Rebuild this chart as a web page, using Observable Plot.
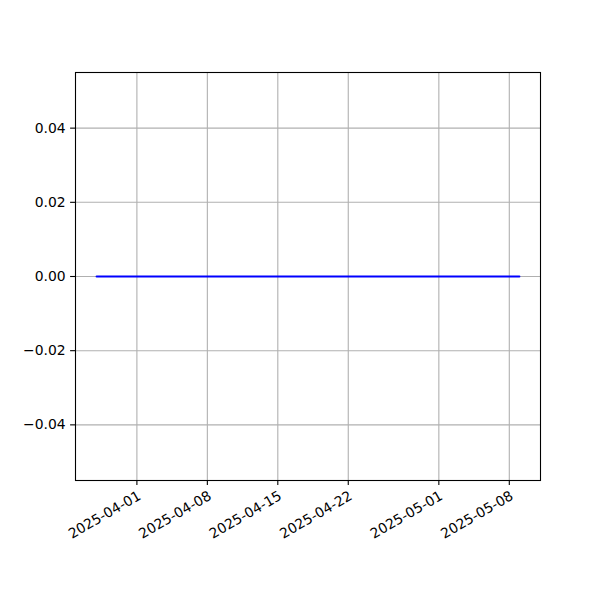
<!DOCTYPE html>
<html>
<head>
<meta charset="utf-8">
<script src="https://cdn.jsdelivr.net/npm/d3@7"></script>
<script src="https://cdn.jsdelivr.net/npm/@observablehq/plot@0.6"></script>
<style>
  html, body { margin: 0; padding: 0; background: white; }
  #chart { width: 600px; height: 600px; }
</style>
</head>
<body>
<div id="chart"></div>
<script>
const dates = [
  "2025-03-28","2025-03-29","2025-03-30","2025-03-31","2025-04-01","2025-04-02","2025-04-03",
  "2025-04-04","2025-04-05","2025-04-06","2025-04-07","2025-04-08","2025-04-09","2025-04-10",
  "2025-04-11","2025-04-12","2025-04-13","2025-04-14","2025-04-15","2025-04-16","2025-04-17",
  "2025-04-18","2025-04-19","2025-04-20","2025-04-21","2025-04-22","2025-04-23","2025-04-24",
  "2025-04-25","2025-04-26","2025-04-27","2025-04-28","2025-04-29","2025-04-30","2025-05-01",
  "2025-05-02","2025-05-03","2025-05-04","2025-05-05","2025-05-06","2025-05-07","2025-05-08",
  "2025-05-09"
];
const values = [
  0,0,0,0,0,0,0,
  0,0,0,0,0,0,0,
  0,0,0,0,0,0,0,
  0,0,0,0,0,0,0,
  0,0,0,0,0,0,0,
  0,0,0,0,0,0,0,
  0
];
const xTickLabels = ["2025-04-01","2025-04-08","2025-04-15","2025-04-22","2025-05-01","2025-05-08"];
const yTickValues = [-0.04, -0.02, 0.00, 0.02, 0.04];

const data = dates.map((d, i) => ({date: new Date(d + "T00:00:00Z"), value: values[i]}));
const xTicks = xTickLabels.map(d => new Date(d + "T00:00:00Z"));
const fmtDate = d3.utcFormat("%Y-%m-%d");
const fmtY = v => (v < 0 ? "\u2212" : "") + Math.abs(v).toFixed(2);

const fontSize = 13.9;

const chart = Plot.plot({
  width: 600,
  height: 600,
  marginLeft: 75,
  marginRight: 60,
  marginTop: 72,
  marginBottom: 120,
  style: {fontFamily: "DejaVu Sans", fontSize: fontSize + "px", color: "black", background: "white"},
  x: {type: "utc", domain: [new Date("2025-03-25T21:36:00Z"), new Date("2025-05-11T02:24:00Z")]},
  y: {domain: [-0.055, 0.055]},
  marks: [
    Plot.gridX({ticks: xTicks, stroke: "#b0b0b0", strokeOpacity: 1, strokeWidth: 1.1}),
    Plot.gridY({ticks: yTickValues, stroke: "#b0b0b0", strokeOpacity: 1, strokeWidth: 1.1}),
    Plot.lineY(data, {x: "date", y: "value", stroke: "blue", strokeWidth: 2.08}),
    Plot.frame({stroke: "black", strokeWidth: 1.1}),
    Plot.axisY({ticks: yTickValues, tickFormat: fmtY, tickSize: 4.9, tickPadding: 4.9, label: null, fontSize: fontSize, strokeWidth: 1.1}),
    Plot.axisX({ticks: xTicks, tickFormat: () => "", tickSize: 4.9, label: null, strokeWidth: 1.1}),
    Plot.text(xTicks, {
      x: d => d,
      frameAnchor: "bottom",
      text: d => fmtDate(d),
      rotate: -30,
      textAnchor: "end",
      lineAnchor: "top",
      dy: 9.5,
      fontSize: fontSize,
      fill: "black"
    })
  ]
});
document.getElementById("chart").appendChild(chart);
</script>
</body>
</html>
